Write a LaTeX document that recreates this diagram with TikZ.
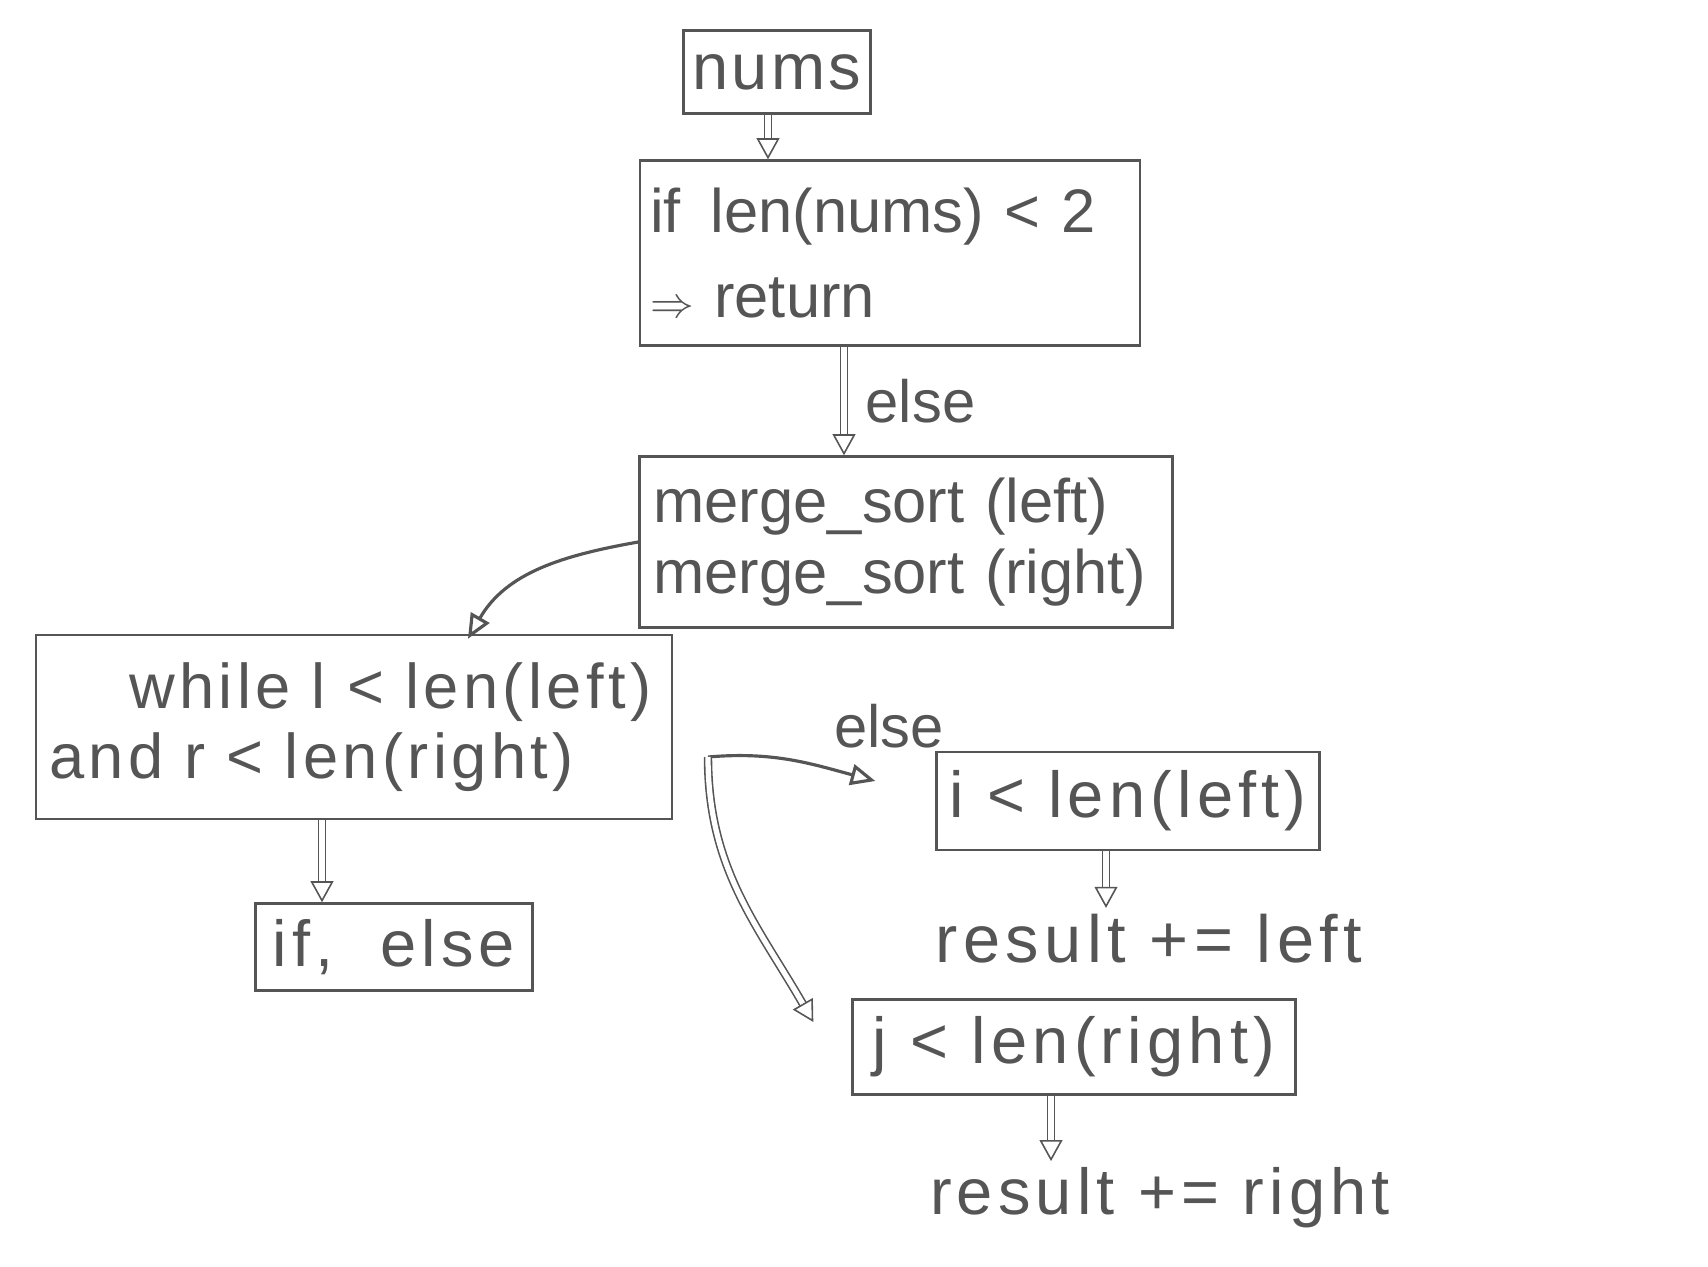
\documentclass[tikz,border=0pt]{standalone}
\usepackage{fontspec}
\setmainfont{Liberation Sans}
\usetikzlibrary{arrows.meta,calc}
\definecolor{pencil}{RGB}{85,85,85}
\begin{document}
\begin{tikzpicture}[x=0.02cm, y=-0.02cm, auto, thick, pencil,
    every node/.style={font=\fontsize{34}{40}\selectfont, text=pencil},
    wide/.style={font=\fontsize{#1}{40}\selectfont\addfontfeatures{LetterSpace=8}},
    main node/.style={draw, line width=1.4pt, inner xsep=0.15cm},
    dbl/.style={double, double distance=3pt, line width=0.9pt, -{Triangle[open, length=12pt, width=13pt]}},
    curve/.style={line width=1.8pt, -{Triangle[open, length=14pt, width=12pt]}}]
    \useasboundingbox (0,0) rectangle (1708,1267);
    \node[main node, minimum width=3.74cm, minimum height=1.66cm, font=\fontsize{37}{40}\selectfont\addfontfeatures{LetterSpace=5}] (nums) at (777,72) {nums};
    \node[main node, minimum width=10cm, minimum height=3.7cm, text width=9.6cm, inner xsep=0.2cm, align=left, font=\fontsize{35}{48}\selectfont] (base) at (890,253) {if\hspace{0.6cm}len(nums) < 2\\ $\Rightarrow$ return};
    \node[main node, minimum width=10.66cm, minimum height=3.42cm, text width=10.1cm, inner xsep=0.28cm, align=left, font=\fontsize{35}{40}\selectfont] (split) at (906,542) {merge\_sort (left)\\ merge\_sort (right)};
    \node[main node, minimum width=12.72cm, minimum height=3.68cm, text width=12.2cm, inner xsep=0.25cm, align=left, font=\fontsize{36}{40}\selectfont\addfontfeatures{LetterSpace=7}] (loop) at (354,727) {\hspace*{1.6cm}while l < len(left)\\ and r < len(right)};
    \node[main node, minimum width=5.54cm, minimum height=1.74cm, wide=37] (pick) at (394,947) {if,\ \ else};
    \node[main node, minimum width=7.66cm, minimum height=1.96cm, wide=37] (restl) at (1128,801) {i < len(left)};
    \node[wide=38] (addl) at (1149,939) {result += left};
    \node[main node, minimum width=8.86cm, minimum height=1.9cm, wide=37] (restr) at (1074,1047) {j < len(right)};
    \node[wide=37] (addr) at (1160,1198) {result += right};
    \coordinate (fork) at (708,757);
    % arrows
    \draw[dbl] ([xshift=-0.18cm]nums.south) -- ([xshift=-0.18cm]nums.south |- base.north);
    \draw[dbl] ([xshift=-0.92cm]base.south) -- node[xshift=0.3cm] {else} ([xshift=-0.92cm]base.south |- split.north);
    \draw[curve] (split.west) to[out=190, in=60] ([xshift=2.28cm, yshift=-0.1cm]loop.north);
    \draw[dbl] ([xshift=-0.64cm]loop.south) -- ([xshift=-0.64cm]loop.south |- pick.north);
    \draw[curve] (fork) to[out=5, in=165] node[pos=0.72, yshift=0.25cm] {else} ([xshift=-1.2cm, yshift=0.4cm]restl.west);
    \draw[dbl] (fork) to[out=-90, in=120] ([xshift=-0.76cm, yshift=0.5cm]restr.west);
    \draw[dbl] ([xshift=-0.44cm]restl.south) -- ([xshift=-0.44cm]restl.south |- addl.north);
    \draw[dbl] ([xshift=-0.46cm]restr.south) -- ([xshift=-0.46cm]restr.south |- addr.north);
\end{tikzpicture}
\end{document}
